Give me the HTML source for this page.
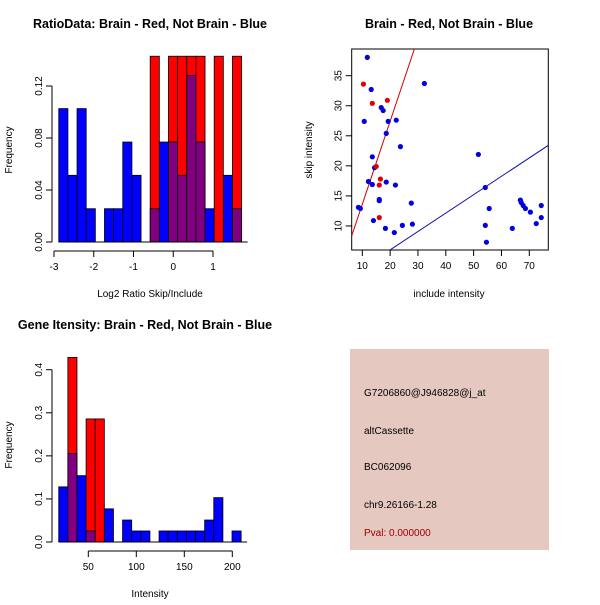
<!DOCTYPE html>
<html><head><meta charset="utf-8"><style>
body{margin:0;background:#fff;}
svg text{font-family:"Liberation Sans",sans-serif;}
</style></head><body>
<svg id="s" width="600" height="600" xmlns="http://www.w3.org/2000/svg">
<rect width="600" height="600" fill="#fff"/>
<text x="150" y="28" font-size="12.5" font-weight="bold" text-anchor="middle">RatioData: Brain - Red, Not Brain - Blue</text>
<text x="449" y="28" font-size="12.5" font-weight="bold" text-anchor="middle">Brain - Red, Not Brain - Blue</text>
<text x="145" y="329" font-size="12.5" font-weight="bold" text-anchor="middle">Gene Itensity: Brain - Red, Not Brain - Blue</text>
<text x="150" y="297" font-size="10" text-anchor="middle">Log2 Ratio Skip/Include</text>
<text transform="translate(12,150) rotate(-90)" font-size="10" text-anchor="middle">Frequency</text>
<text x="449" y="297" font-size="10" text-anchor="middle">include intensity</text>
<text transform="translate(312,150) rotate(-90)" font-size="10" text-anchor="middle">skip intensity</text>
<text x="150" y="597" font-size="10" text-anchor="middle">Intensity</text>
<text transform="translate(12,445) rotate(-90)" font-size="10" text-anchor="middle">Frequency</text>
<g>
<rect x="350" y="349" width="199" height="201" fill="#e5c8c0"/>
<text x="364" y="396" font-size="10">G7206860@J946828@j_at</text>
<text x="364" y="434" font-size="10">altCassette</text>
<text x="364" y="470" font-size="10">BC062096</text>
<text x="364" y="508" font-size="10">chr9.26166-1.28</text>
<text x="364" y="536" font-size="10" fill="#a00000">Pval: 0.000000</text>
</g>
</svg>
<script>
// Ratio histogram data
const ratioStart = -2.88, ratioWidth = 0.23;
const ratioBlue = [0.1026,0.0513,0.1026,0.0256,0,0.0256,0.0256,0.0769,0.0513,0,0.0256,0.0769,0.0769,0.0513,0.1282,0.0769,0.0256,0,0.0513,0.0256];
const ratioRed  = [0,0,0,0,0,0,0,0,0,0,0.1429,0,0.1429,0.1429,0.1429,0.1429,0,0.1429,0,0.1429];
const ratioXTicks = [-3,-2,-1,0,1];
const ratioYTicks = [0,0.04,0.08,0.12];
const ratioYTickLabels = ["0.00","0.04","0.08","0.12"];
// Intensity histogram data
const intStart = 19.2, intWidth = 9.5;
const intBlue = [0.128,0.205,0.154,0.0256,0,0.077,0,0.051,0.0256,0.0256,0,0.0256,0.0256,0.0256,0.0256,0.0256,0.051,0.103,0,0.0256];
const intRed  = [0,0.4286,0,0.2857,0.2857,0,0,0,0,0,0,0,0,0,0,0,0,0,0,0];
const intXTicks = [50,100,150,200];
const intYTicks = [0,0.1,0.2,0.3,0.4];
const intYTickLabels = ["0.0","0.1","0.2","0.3","0.4"];
// Scatter data
const blueX = [11.8,13.2,32.3,10.7,16.8,17.5,19.3,22.2,18.6,23.7,13.6,14.4,12.2,13.6,18.6,21.9,16.1,16.1,8.6,9.3,14.0,18.3,21.5,24.4,28.0,27.6,51.7,54.2,54.2,54.6,55.6,63.9,66.8,67.1,67.8,68.6,70.4,72.5,74.3,74.3];
const blueY = [38.05,32.7,33.7,27.4,29.7,29.2,27.4,27.6,25.4,23.2,21.5,19.7,17.4,16.9,17.3,16.8,14.4,14.2,13.1,12.9,10.9,9.6,8.9,10.1,10.3,13.8,21.9,16.4,10.1,7.3,12.9,9.6,14.3,13.9,13.4,12.9,12.3,10.4,13.4,11.4];
const redX = [10.4,13.6,19.0,15.0,16.5,16.1,16.1];
const redY = [33.6,30.4,30.9,19.9,17.8,16.8,11.4];
const redLine = [-0.18,1.38];   // intercept, slope
const blueLine = [-0.1,0.306];
const scXTicks = [10,20,30,40,50,60,70];
const scYTicks = [10,15,20,25,30,35];

const NS="http://www.w3.org/2000/svg", svg=document.getElementById('s');
function mk(tag,attrs,parent){const e=document.createElementNS(NS,tag);for(const k in attrs)e.setAttribute(k,attrs[k]);(parent||svg).appendChild(e);return e;}

function histogram(name,start,width,blue,red,xs,ys,y0px,pxPerY,x0val,x0px,pxPerX,xTicks,yTicks,yLabels,axisY){
  const g=mk('g',{});
  
  
  const X=v=>x0px+(v-x0val)*pxPerX, Y=v=>y0px-v*pxPerY;
  for(let i=0;i<blue.length;i++){
    const xa=X(start+i*width), xb=X(start+(i+1)*width);
    const b=blue[i], r=red[i];
    if(r>0){
      const e=mk('rect',{x:xa,y:Y(r),width:xb-xa,height:Y(0)-Y(r),fill:'#ff0000',stroke:'#000','stroke-width':0.8},g);
      
      
    }
    if(b>0){
      const e=mk('rect',{x:xa,y:Y(b),width:xb-xa,height:Y(0)-Y(b),fill:r>0?'#800080':'#0000ff',stroke:'#000','stroke-width':0.8},g);
      
      
    }
  }
  const ya=mk('line',{x1:52,x2:52,y1:Y(yTicks[0]),y2:Y(yTicks[yTicks.length-1]),stroke:'#000'},g);
  
  
  yTicks.forEach((t,i)=>{
    mk('line',{x1:46,x2:52,y1:Y(t),y2:Y(t),stroke:'#000'},g);
    const tx=mk('text',{transform:`translate(42,${Y(t)}) rotate(-90)`,'font-size':10,'text-anchor':'middle'},g);
    tx.textContent=yLabels[i];
    
    
  });
  mk('line',{x1:X(start),x2:X(start+width*blue.length)+6,y1:Y(0),y2:Y(0),stroke:'#000'},g);
  const xa2=mk('line',{x1:X(xTicks[0]),x2:X(xTicks[xTicks.length-1]),y1:axisY,y2:axisY,stroke:'#000'},g);
  
  
  xTicks.forEach(t=>{
    mk('line',{x1:X(t),x2:X(t),y1:axisY,y2:axisY+6,stroke:'#000'},g);
    const tx=mk('text',{x:X(t),y:axisY+19,'font-size':10,'text-anchor':'middle'},g);
    tx.textContent=String(t);
    
    
  });
}
histogram('ratio-histogram',ratioStart,ratioWidth,ratioBlue,ratioRed,ratioXTicks,ratioYTicks,242,182/0.14,-3,54,39.75,ratioXTicks,ratioYTicks,ratioYTickLabels,251);
histogram('intensity-histogram',intStart,intWidth,intBlue,intRed,intXTicks,intYTicks,542,172.3/0.4,50,88.3,0.96,intXTicks,intYTicks,intYTickLabels,551);

(function(){
  const g=mk('g',{});
  
  
  const L=351.7,R=548.3,T=49,B=250;
  const xmin=6.19,xmax=76.83,ymin=6.0,ymax=39.44;
  const X=v=>L+(v-xmin)/(xmax-xmin)*(R-L), Y=v=>B-(v-ymin)/(ymax-ymin)*(B-T);
  const cp=mk('clipPath',{id:'cp'},g); mk('rect',{x:L,y:T,width:R-L,height:B-T},cp);
  const box=mk('rect',{x:L,y:T,width:R-L,height:B-T,fill:'none',stroke:'#000'},g);
  
  
  scXTicks.forEach(t=>{
    mk('line',{x1:X(t),x2:X(t),y1:B,y2:B+6,stroke:'#000'},g);
    const tx=mk('text',{x:X(t),y:B+19,'font-size':10,'text-anchor':'middle'},g);
    tx.textContent=String(t);
    
    
  });
  scYTicks.forEach(t=>{
    mk('line',{x1:L-6,x2:L,y1:Y(t),y2:Y(t),stroke:'#000'},g);
    const tx=mk('text',{transform:`translate(${L-10},${Y(t)}) rotate(-90)`,'font-size':10,'text-anchor':'middle'},g);
    tx.textContent=String(t);
    
    
  });
  const lg=mk('g',{'clip-path':'url(#cp)'},g);
  const rl=mk('line',{x1:X(xmin),y1:Y(redLine[0]+redLine[1]*xmin),x2:X(xmax),y2:Y(redLine[0]+redLine[1]*xmax),stroke:'#d00000','stroke-width':1},lg);
  
  
  const bl=mk('line',{x1:X(xmin),y1:Y(blueLine[0]+blueLine[1]*xmin),x2:X(xmax),y2:Y(blueLine[0]+blueLine[1]*xmax),stroke:'#1010b0','stroke-width':1},lg);
  
  
  blueX.forEach((x,i)=>{
    const c=mk('circle',{cx:X(x),cy:Y(blueY[i]),r:2.6,fill:'#0000e0'},g);
    
    
  });
  redX.forEach((x,i)=>{
    const c=mk('circle',{cx:X(x),cy:Y(redY[i]),r:2.6,fill:'#e00000'},g);
    
    
  });
})();
</script>
</body></html>
